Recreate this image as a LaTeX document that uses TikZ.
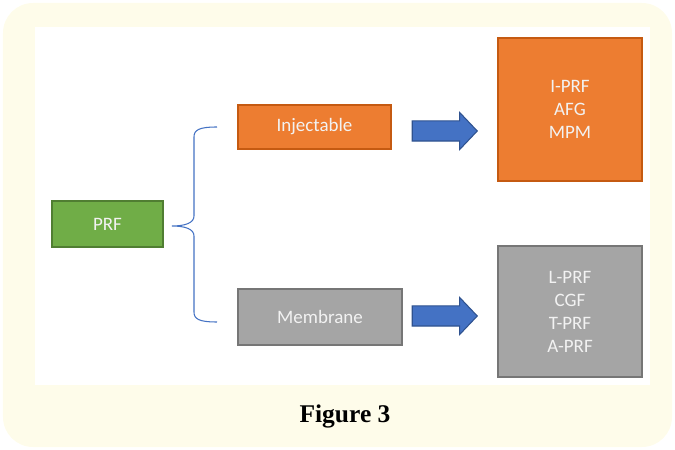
\documentclass[tikz,border=0pt]{standalone}
\usepackage{fontspec}
\setmainfont{Carlito}
\newfontfamily\capfont{Liberation Serif}
\usetikzlibrary{shapes.arrows,positioning}
\definecolor{Cream}{RGB}{254,252,234}
\definecolor{OffOrange}{RGB}{237,125,49}
\definecolor{OffOrangeDk}{RGB}{197,90,17}
\definecolor{OffGray}{RGB}{165,165,165}
\definecolor{OffGrayDk}{RGB}{118,118,118}
\definecolor{OffGreen}{RGB}{112,173,71}
\definecolor{OffGreenDk}{RGB}{80,126,50}
\definecolor{OffBlue}{RGB}{68,114,196}
\definecolor{OffBlueDk}{RGB}{47,82,143}

\begin{document}
\begin{tikzpicture}[every node/.style={font=\fontsize{10.8}{13.1}\selectfont, text=white!95!black},
  box/.style={draw, line width=0.7pt, inner sep=0pt, align=center},
  blk/.style={single arrow, draw=OffBlueDk, fill=OffBlue, line width=0.6pt, inner xsep=0pt, inner ysep=0.19cm,
    minimum width=0.72cm, minimum height=1.3cm, single arrow head extend=0.17cm, single arrow tip angle=93}]
\useasboundingbox (0,0) rectangle (13.5,9);
\fill[Cream, rounded corners=0.6cm] (0.06,0.06) rectangle (13.44,8.94);
\fill[white] (0.7,1.3) rectangle (13.0,8.46);
% boxes
\node[box, draw=OffGreenDk, fill=OffGreen, minimum width=2.22cm, minimum height=0.92cm] (prf) at (2.15,4.52) {PRF};
\node[box, draw=OffOrangeDk, fill=OffOrange, minimum width=3.06cm, minimum height=0.88cm] (inj) at (6.29,6.46) {Injectable};
\node[box, draw=OffGrayDk, fill=OffGray, minimum width=3.28cm, minimum height=1.12cm] (mem) at (6.4,2.66) {Membrane};
\node[box, draw=OffOrangeDk, fill=OffOrange, minimum width=2.88cm, minimum height=2.86cm] (injl) at (11.4,6.81) {I-PRF\\AFG\\MPM};
\node[box, draw=OffGrayDk, fill=OffGray, minimum width=2.88cm, minimum height=2.62cm] (meml) at (11.4,2.77) {L-PRF\\CGF\\T-PRF\\A-PRF};
% block arrows
\node[blk] (a1) at (8.80,6.38) {};
\node[blk] (a2) at (8.80,2.68) {};
% brace
\coordinate (bBot) at (4.34,2.56);
\coordinate (bTop) at (4.34,6.46);
\draw[OffBlue, line width=0.6pt] (bTop) .. controls (3.98,6.46) and (3.88,6.40) .. (3.88,6.26) -- (3.88,4.68)
  .. controls (3.88,4.54) and (3.70,4.48) .. (3.44,4.48) .. controls (3.70,4.48) and (3.88,4.42) .. (3.88,4.28)
  -- (3.88,2.76) .. controls (3.88,2.62) and (3.98,2.56) .. (bBot);
\node[text=black, font=\capfont\fontsize{14.5}{16}\selectfont\bfseries] (cap) at (6.9,0.68) {Figure 3};
\end{tikzpicture}
\end{document}
